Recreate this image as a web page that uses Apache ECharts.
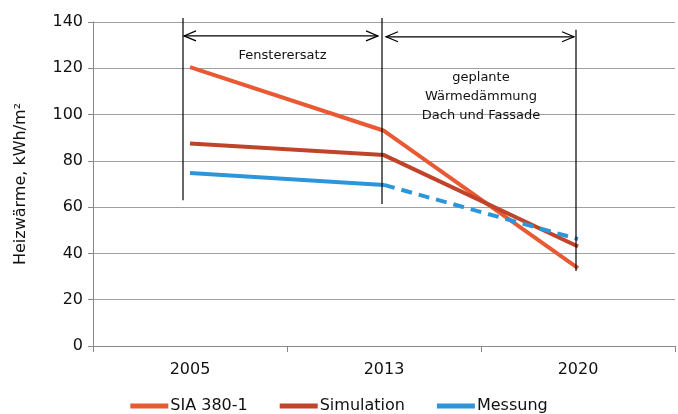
<!DOCTYPE html>
<html><head><meta charset="utf-8">
<script src="https://cdn.jsdelivr.net/npm/echarts@6/dist/echarts.min.js"></script>
<style>html,body{margin:0;padding:0;background:#fff}#c{width:678px;height:414px}</style>
</head><body><div id="c"></div>
<script>
const years = ['2005', '2013', '2020'];
const sia = [120.5, 93, 33.7];
const simulation = [87.5, 82.5, 43];
const messungSolid = [74.8, 69.6, null];
const messungDashed = [null, 69.6, 46.2];
const yTicks = [0, 20, 40, 60, 80, 100, 120, 140];
const yTitle = 'Heizwärme, kWh/m²';
const note1 = 'Fensterersatz';
const note2 = 'geplante\nWärmedämmung\nDach und Fassade';

const FONT = '"DejaVu Sans", Verdana, sans-serif';
const chart = echarts.init(document.getElementById('c'));
chart.setOption({
  animation: false,
  grid: {left: 93, right: 3, top: 22, bottom: 68},
  legend: {
    top: 393, left: 'center', itemGap: 32, itemWidth: 38, itemHeight: 5, icon: 'rect',
    data: ['SIA 380-1', 'Simulation', 'Messung'],
    textStyle: {fontFamily: FONT, fontSize: 16, color: '#111', padding: [0, 0, 0, -3]}
  },
  xAxis: {
    type: 'category', data: years, boundaryGap: true,
    axisLine: {lineStyle: {color: '#888', width: 1}},
    axisTick: {show: true, length: 6, lineStyle: {color: '#888'}},
    axisLabel: {fontFamily: FONT, fontSize: 16, color: '#111', margin: 16}
  },
  yAxis: {
    type: 'value', min: yTicks[0], max: yTicks[yTicks.length - 1], interval: 20,
    name: yTitle, nameLocation: 'middle', nameGap: 64, nameRotate: 90,
    nameTextStyle: {fontFamily: FONT, fontSize: 16, color: '#111'},
    axisLine: {show: true, lineStyle: {color: '#888'}},
    axisTick: {show: true, length: 5, lineStyle: {color: '#888'}},
    axisLabel: {fontFamily: FONT, fontSize: 16, color: '#111', margin: 10},
    splitLine: {lineStyle: {color: '#a0a0a0', width: 1}}
  },
  series: [
    {name: 'SIA 380-1', type: 'line', data: sia, symbol: 'none', color: '#E85A33',
     lineStyle: {width: 4, color: '#E85A33'}, z: 3},
    {name: 'Simulation', type: 'line', data: simulation, symbol: 'none', color: '#C0442A',
     lineStyle: {width: 4, color: '#C0442A'}, z: 3},
    {name: 'Messung', type: 'line', data: messungSolid, symbol: 'none', color: '#2D96DA',
     lineStyle: {width: 4, color: '#2D96DA'}, z: 3},
    {name: 'Messung-Prognose', type: 'line', data: messungDashed, symbol: 'none', color: '#2D96DA',
     lineStyle: {width: 4, color: '#2D96DA', type: [11, 7]}, z: 3}
  ]
});

function px(cat, val) { return chart.convertToPixel({xAxisIndex: 0, yAxisIndex: 0}, [cat, val]); }
const ls = {stroke: '#000', lineWidth: 1.2};
const g = [];
const vlines = [
  {cat: '2005', top: 141.7, bot: 63, dx: -7},
  {cat: '2013', top: 141.7, bot: 61.4, dx: -2},
  {cat: '2020', top: 136.6, bot: 32.4, dx: -2}
];
const xs = vlines.map(v => {
  const a = px(v.cat, v.top), b = px(v.cat, v.bot);
  g.push({type: 'line', shape: {x1: a[0] + v.dx, y1: a[1], x2: a[0] + v.dx, y2: b[1]}, style: ls, z: 10});
  return a[0] + v.dx;
});
function arrow(x1, x2, y) {
  g.push({type: 'line', shape: {x1: x1, y1: y, x2: x2, y2: y}, style: ls, z: 10});
  g.push({type: 'polyline', shape: {points: [[x1 + 12, y - 5], [x1, y], [x1 + 12, y + 5]]}, style: Object.assign({fill: null}, ls), z: 10});
  g.push({type: 'polyline', shape: {points: [[x2 - 12, y - 5], [x2, y], [x2 - 12, y + 5]]}, style: Object.assign({fill: null}, ls), z: 10});
}
const yA1 = px('2005', 134)[1], yA2 = px('2005', 133.6)[1];
arrow(xs[0] + 1, xs[1] - 4, yA1);
arrow(xs[1] + 4, xs[2] - 2, yA2);
g.push({type: 'text', x: (xs[0] + xs[1]) / 2, y: px('2005', 125.3)[1],
  style: {text: note1, fontFamily: FONT, fontSize: 13, fill: '#111', align: 'center', verticalAlign: 'middle'}, z: 10});
g.push({type: 'text', x: (xs[1] + xs[2]) / 2 + 2, y: px('2005', 120.2)[1],
  style: {text: note2, fontFamily: FONT, fontSize: 13, lineHeight: 19, fill: '#111', align: 'center', verticalAlign: 'top'}, z: 10});
chart.setOption({graphic: g});
</script></body></html>
